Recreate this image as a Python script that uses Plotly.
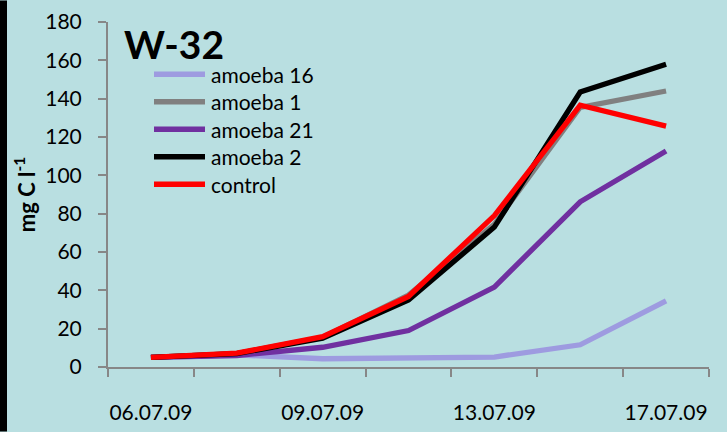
import plotly.graph_objects as go

# Sampling dates; every other one is labelled on the axis
dates = ["06.07.09", "07.07.09", "09.07.09", "11.07.09", "13.07.09", "15.07.09", "17.07.09"]

# Carbon concentration, mg C l-1
amoeba_16 = [5.0, 6.3, 4.3, 4.5, 5.2, 11.6, 34.5]
amoeba_1 = [5.0, 7.0, 15.5, 37.5, 74.5, 135.5, 144.0]
amoeba_21 = [5.0, 6.0, 10.3, 19.0, 41.7, 86.2, 112.7]
amoeba_2 = [5.0, 7.0, 15.0, 35.0, 73.0, 143.5, 158.0]
control = [5.0, 7.2, 15.8, 36.8, 79.0, 136.6, 125.7]

series_names = ["amoeba 16", "amoeba 1", "amoeba 21", "amoeba 2", "control"]
series_values = [amoeba_16, amoeba_1, amoeba_21, amoeba_2, control]
series_colors = ["#9e9be0", "#808080", "#7030a0", "#000000", "#ff0000"]

y_ticks = list(range(0, 181, 20))

W, H = 727, 432
L, R, T, B = 108, 18, 22, 65
PW, PH = W - L - R, H - T - B
FONT = "Lato, Carlito, Calibri, sans-serif"
AXIS = "#878787"
BG = "#b9dfe1"

pos = list(range(len(dates)))
label_pos = pos[::2]
label_text = dates[::2]
boundaries = [p - 0.5 for p in pos] + [pos[-1] + 0.5]


def px_x(px):
    return (px - L) / PW


def px_y(py):
    return (H - B - py) / PH


fig = go.Figure()
for name, vals, col in zip(series_names, series_values, series_colors):
    fig.add_trace(go.Scatter(
        x=pos, y=vals, name=name, mode="lines",
        line=dict(color=col, width=5.3),
        showlegend=False,
    ))

# Legend drawn as swatch lines with text labels
legend_top = 74.3
legend_step = 27.5
shapes = [
    # dark strip along the left edge, kept inside the page bounds
    dict(type="rect", xref="paper", yref="paper",
         x0=px_x(0), x1=px_x(7), y0=px_y(H - 0.5), y1=px_y(0.5),
         fillcolor="#000000", line=dict(width=0), layer="above"),
]
annotations = [
    dict(text="<b>W-32</b>", xref="paper", yref="paper",
         x=px_x(122), y=px_y(44), xanchor="left", yanchor="middle",
         showarrow=False, font=dict(family=FONT, size=39, color="#000000")),
]
for i, (name, col) in enumerate(zip(series_names, series_colors)):
    yy = legend_top + i * legend_step
    shapes.append(dict(type="line", xref="paper", yref="paper",
                       x0=px_x(154), x1=px_x(205), y0=px_y(yy), y1=px_y(yy),
                       line=dict(color=col, width=5.5)))
    annotations.append(dict(text=name, xref="paper", yref="paper",
                            x=px_x(209), y=px_y(yy), xanchor="left", yanchor="middle",
                            showarrow=False,
                            font=dict(family=FONT, size=21, color="#000000")))

fig.update_layout(
    width=W, height=H,
    margin=dict(l=L, r=R, t=T, b=B, pad=0),
    paper_bgcolor=BG, plot_bgcolor=BG,
    font=dict(family=FONT, size=21, color="#000000"),
    shapes=shapes, annotations=annotations,
    xaxis=dict(
        range=[-0.5, len(dates) - 0.5], automargin=False,
        tickmode="array", tickvals=label_pos, ticktext=label_text,
        tickangle=0, ticks="",
        minor=dict(tickmode="array", tickvals=boundaries, ticks="outside",
                   ticklen=8, tickwidth=2, tickcolor=AXIS, showgrid=False),
        showline=True, linecolor=AXIS, linewidth=2,
        showgrid=False, zeroline=False, ticklabelstandoff=26,
        tickfont=dict(family=FONT, size=21, color="#000000"),
    ),
    yaxis=dict(
        range=[0, 180], automargin=False, tickmode="array", tickvals=y_ticks,
        ticks="outside", ticklen=8, tickwidth=2, tickcolor=AXIS,
        showline=True, linecolor=AXIS, linewidth=2,
        showgrid=False, zeroline=False, ticklabelstandoff=12,
        tickfont=dict(family=FONT, size=21, color="#000000"),
        title=dict(text="<b>mg C l<sup>-1</sup></b>", standoff=4,
                   font=dict(family=FONT, size=22, color="#000000")),
    ),
)

fig.write_html("out.html")
